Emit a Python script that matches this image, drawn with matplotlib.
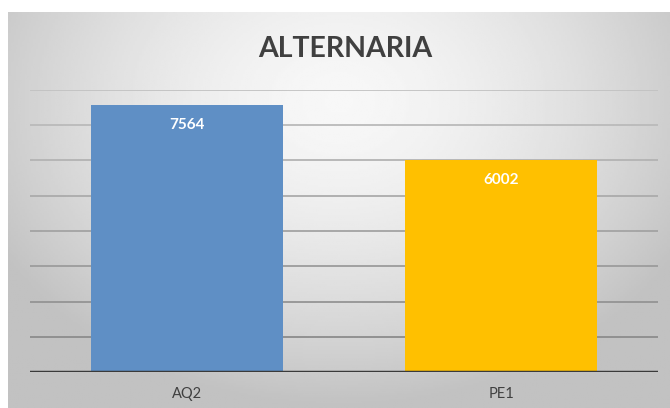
import matplotlib.pyplot as plt
import numpy as np

categories = ['AQ2', 'PE1']
values = [7564, 6002]
colors = ['#5f8fc5', '#ffc000']

plt.rcParams['font.family'] = ['Lato', 'DejaVu Sans']

W, H = 670, 408
fig = plt.figure(figsize=(W / 100, H / 100), dpi=100)
fig.patch.set_facecolor('white')

# gray radial gradient background
bg = fig.add_axes([8 / W, 0, 662 / W, 396 / H])
yy, xx = np.mgrid[-1:1:200j, -1:1:300j]
r = np.sqrt((xx / 1.0) ** 2 + ((yy + 0.55) / 1.3) ** 2)
shade = np.clip(0.97 - 0.16 * r ** 1.6, 0.76, 0.97)
bg.imshow(shade, cmap='gray', vmin=0, vmax=1, aspect='auto', extent=[0, 1, 0, 1])
bg.set_axis_off()

# plot area
ax = fig.add_axes([30 / W, (H - 372) / H, 628 / W, 282 / H])
ax.patch.set_alpha(0)
ax.set_xlim(-0.5, 1.5)
ax.set_ylim(0, 8000)
ax.set_yticks(np.arange(1000, 8001, 1000))
for i, yv in enumerate(np.arange(1000, 8001, 1000)):
    g = 0.55 + 0.03 * i
    ax.axhline(yv, color=(g, g, g), lw=1.3, zorder=0)
ax.axhline(0, color='#3a3a3a', lw=2.5, zorder=3)

x = np.arange(len(categories))
ax.bar(x, values, width=0.61, color=colors, zorder=2)
for xi, v in zip(x, values):
    ax.text(xi, v - 560, str(v), ha='center', va='center', color='white',
            fontsize=11, fontweight='bold', zorder=4)

ax.set_xticks(x)
ax.set_xticklabels(categories, fontsize=10.5, color='#404040')
ax.tick_params(axis='x', length=0, pad=11)
ax.tick_params(axis='y', left=False, labelleft=False)
for s in ax.spines.values():
    s.set_visible(False)

fig.text(345 / W, 1 - 49 / H, 'ALTERNARIA', ha='center', va='center',
         fontsize=20.5, fontweight='bold', color='#404040')

fig.savefig('out.png', dpi=100)
